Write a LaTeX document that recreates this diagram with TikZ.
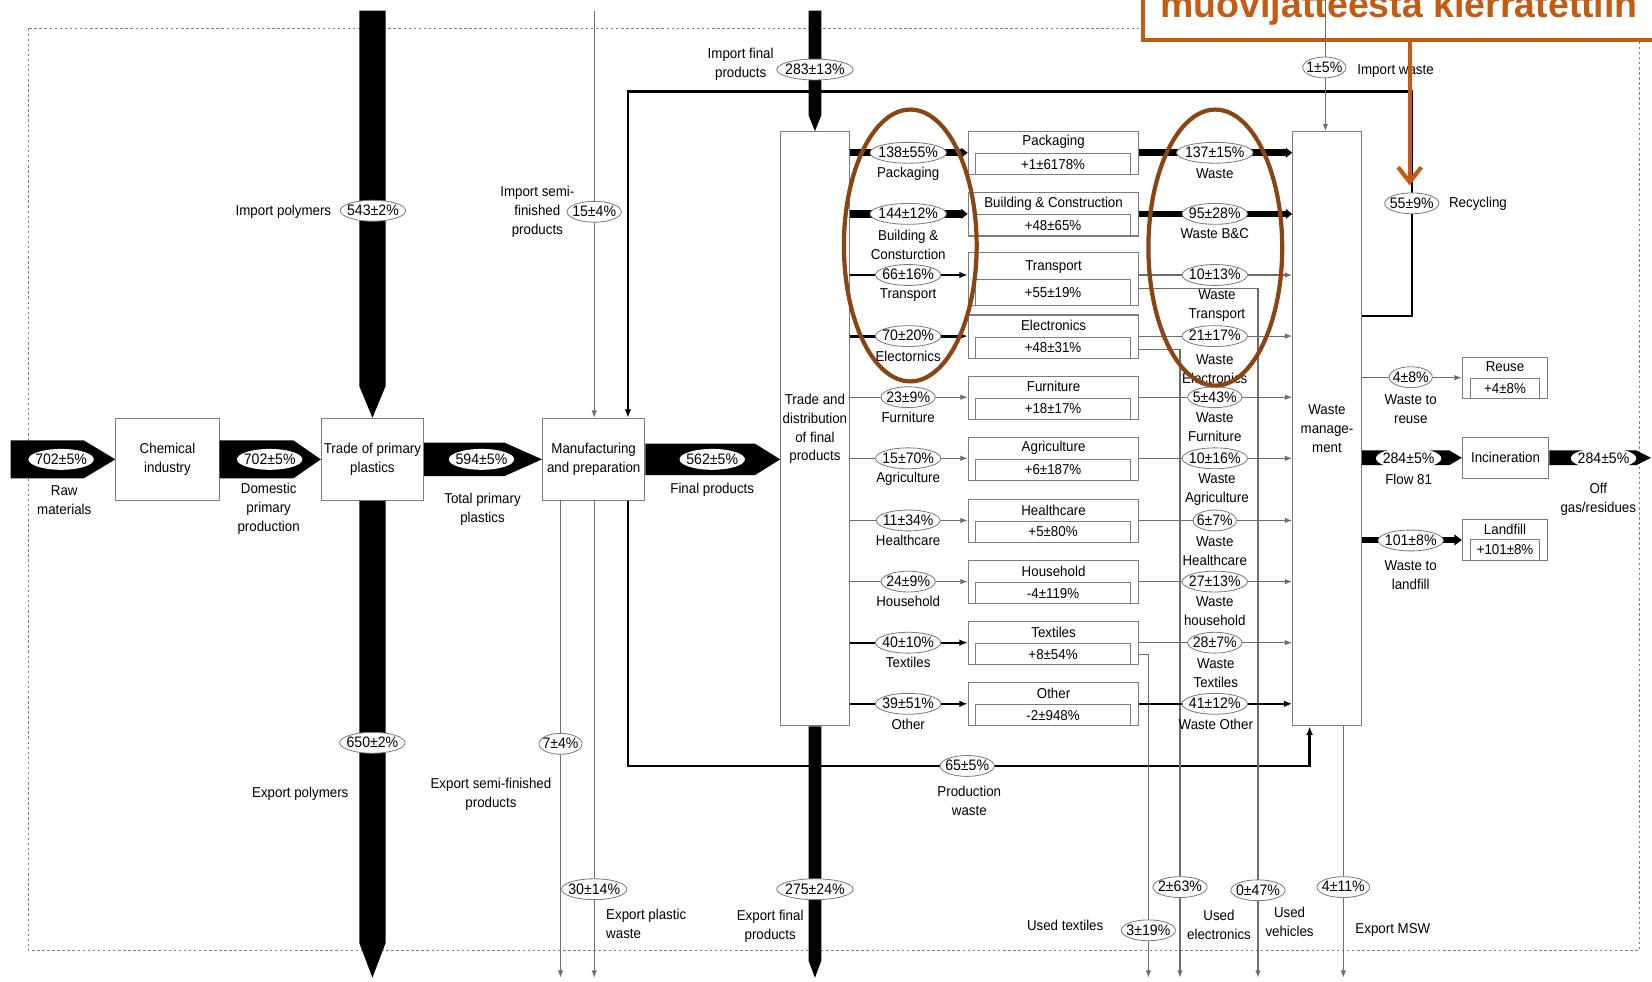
\documentclass[tikz,border=0pt]{standalone}
\usepackage{fontspec}
\setmainfont{Liberation Sans}[FakeStretch=0.93]
\newfontfamily\titlefont{Liberation Sans}
\usetikzlibrary{shapes.geometric,arrows.meta,calc}
\definecolor{orng}{RGB}{197,90,17}
\definecolor{brwn}{RGB}{139,69,19}
\definecolor{ln}{RGB}{110,110,110}
\definecolor{bx}{RGB}{125,125,125}
\tikzset{
 lbl/.style={font=\fontsize{6.8}{9}\selectfont, align=center, inner sep=0pt},
 val/.style={ellipse, draw=bx, line width=0.4pt, fill=white, font=\fontsize{7.2}{9}\selectfont, inner xsep=-1.3pt, inner ysep=0.6pt, text height=5.2pt, text depth=0.6pt},
 bval/.style={val, draw=none},
 box/.style={draw=bx, line width=0.5pt, fill=white, inner sep=0pt, font=\fontsize{6.8}{9}\selectfont, align=center},
 thin/.style={draw=ln, line width=0.5pt},
 tarr/.style={thin, -{Latex[length=3.5pt,width=2.6pt]}},
 marr/.style={draw=black, line width=1.1pt, -{Latex[length=4pt,width=3.2pt]}},
 karr/.style={draw=black, line width=3.5pt, -{Triangle[length=3pt,width=4.5pt]}},
 loopln/.style={draw=black, line width=1.2pt},
}
\newcommand\hbig[4]{\fill ($(#1)+(0,-#3)$) -- ($(#2)+(-#4,-#3)$) -- (#2) -- ($(#2)+(-#4,#3)$) -- ($(#1)+(0,#3)$) -- cycle;}
\newcommand\vbig[4]{\fill ($(#1)+(-#3,0)$) -- ($(#2)+(-#3,-#4)$) -- (#2) -- ($(#2)+(#3,-#4)$) -- ($(#1)+(#3,0)$) -- cycle;}
\begin{document}
\begin{tikzpicture}[x=0.5pt,y=-0.5pt]
\useasboundingbox (0,0) rectangle (1568,932);
\draw[bx, line width=0.4pt, dash pattern=on 1.2pt off 1.2pt] (27,27) rectangle (1556,902);

% coordinates
\coordinate (raw) at (10,436);
\coordinate (ipol) at (353.5,10);
\coordinate (epol) at (353.5,928);
\coordinate (ifp) at (773.5,10);
\coordinate (efp) at (773.5,928);
\coordinate (og) at (1567,434.5);
\foreach \i/\y in {1/145,2/203,3/261,4/319,5/377,6/435,7/494,8/552,9/610,10/668}
  \coordinate (r\i) at (0,\y);

% main boxes
\node[box, minimum width=49pt, minimum height=39pt] (chem) at (159,436) {Chemical\\industry};
\node[box, minimum width=48.5pt, minimum height=39pt] (trp) at (353.5,436) {Trade of primary\\plastics};
\node[box, minimum width=48.5pt, minimum height=39pt] (manu) at (563.5,436) {Manufacturing\\and preparation};
\node[box, minimum width=32.5pt, minimum height=282pt] (tdf) at (773.5,407) {Trade and\\distribution\\of final\\products};
\node[box, minimum width=32.5pt, minimum height=282pt] (wm) at (1259.5,407) {Waste\\manage-\\ment};

% sector boxes
\foreach \n/\y/\t/\v in {pk/145/Packaging/+1±6178\%, bc/203/{Building \& Construction}/+48±65\%, el/319/Electronics/+48±31\%, fu/377/Furniture/+18±17\%, ag/435/Agriculture/+6±187\%, hc/494/Healthcare/+5±80\%, hh/552/Household/-4±119\%, tx/610/Textiles/+8±54\%, ot/668/Other/-2±948\%}{
  \node[box, minimum width=81pt, minimum height=20.5pt] (\n) at (1000,\y+0.5) {};
  \node[box, minimum width=73.5pt, minimum height=10pt] (\n2) at (999.5,\y+11) {\v};
  \node[lbl] (\n3) at (1000,\y-10) {\t};
}
\node[box, minimum width=81pt, minimum height=25pt] (tr) at (1000,265) {};
\node[box, minimum width=73.5pt, minimum height=12.5pt] (tr2) at (999.5,277.5) {+55±19\%};
\node[lbl] (tr3) at (1000,253) {Transport};

% right boxes
\node[box, minimum width=41pt, minimum height=19.5pt] (inc) at (1429,434.5) {Incineration};
\node[box, minimum width=40.5pt, minimum height=19.5pt] (reuse) at (1428.5,358.5) {};
\node[box, minimum width=32.5pt, minimum height=9.5pt] (reuse2) at (1428.5,368.5) {+4±8\%};
\node[lbl] (reuse3) at (1428.5,348) {Reuse};
\node[box, minimum width=40.5pt, minimum height=19.5pt] (land) at (1428.5,512.5) {};
\node[box, minimum width=32.5pt, minimum height=10pt] (land2) at (1428.5,522) {+101±8\%};
\node[lbl] (land3) at (1428.5,502) {Landfill};

% big flows
\hbig{raw}{chem.west}{18}{30}
\hbig{chem.east}{trp.west}{18}{26}
\hbig{trp.east}{manu.west}{16}{36}
\coordinate (fpt) at (tdf.west |- manu.east);
\hbig{manu.east}{fpt}{15}{24}
\vbig{ipol}{trp.north}{12.5}{30}
\vbig{trp.south}{epol}{12.5}{33}
\vbig{ifp}{tdf.north}{6}{15}
\vbig{tdf.south}{efp}{6}{16}
\coordinate (incs) at (wm.east |- inc.west);
\hbig{incs}{inc.west}{7}{12}
\hbig{inc.east}{og}{7}{14}
\draw[draw=black, line width=2.5pt, -{Triangle[length=3.5pt,width=5pt]}] (wm.east |- land.west) -- (land.west);
\draw[tarr] (wm.east |- reuse.west) -- (reuse.west);

% loops
\coordinate (rc1) at (1340,300);
\coordinate (rc2) at (1340,87);
\coordinate (rc3) at (596,87);
\draw[loopln, -{Latex[length=4pt,width=3.2pt]}] (wm.east |- rc1) -- (rc1) -- (rc2) -- (rc3) -- (rc3 |- manu.north);
\coordinate (pw1) at (596,727);
\coordinate (pw2) at (1243,727);
\draw[loopln, -{Latex[length=4pt,width=3.2pt]}] (pw1 |- manu.south) -- (pw1) -- (pw2) -- (pw2 |- wm.south);

% thin vertical flows
\coordinate (isf) at (564,10);
\draw[tarr] (isf) -- (isf |- manu.north);
\coordinate (esf) at (532,928);
\draw[tarr] (esf |- manu.south) -- (esf);
\coordinate (epw) at (564,928);
\draw[tarr] (epw |- manu.south) -- (epw);
\coordinate (iw) at (1258,0);
\coordinate (emsw) at (1275,928);
\draw[tarr] (emsw |- wm.south) -- (emsw);
\coordinate (ut1) at (1090,621);
\coordinate (ut) at (1090,928);
\draw[tarr] (tx.east |- ut1) -- (ut1) -- (ut);
\coordinate (ue1) at (1120,332);
\coordinate (ue) at (1120,928);
\draw[tarr] (el.east |- ue1) -- (ue1) -- (ue);
\coordinate (uv1) at (1194,274);
\coordinate (uv) at (1194,928);
\draw[tarr] (tr.east |- uv1) -- (uv1) -- (uv);

% sector flows left
\draw[karr] (tdf.east |- r1) -- (pk.west |- r1);
\draw[karr] (tdf.east |- r2) -- (bc.west |- r2);
\draw[marr, line width=1pt] (tdf.east |- r3) -- (tr.west |- r3);
\draw[marr, line width=1.5pt] (tdf.east |- r4) -- (el.west |- r4);
\draw[tarr] (tdf.east |- r5) -- (fu.west |- r5);
\draw[tarr] (tdf.east |- r6) -- (ag.west |- r6);
\draw[tarr] (tdf.east |- r7) -- (hc.west |- r7);
\draw[tarr] (tdf.east |- r8) -- (hh.west |- r8);
\draw[marr, line width=0.9pt] (tdf.east |- r9) -- (tx.west |- r9);
\draw[marr, line width=0.9pt] (tdf.east |- r10) -- (ot.west |- r10);
% sector flows right
\draw[karr] (pk.east |- r1) -- (wm.west |- r1);
\draw[karr, line width=3pt] (bc.east |- r2) -- (wm.west |- r2);
\draw[tarr] (tr.east |- r3) -- (wm.west |- r3);
\draw[tarr] (el.east |- r4) -- (wm.west |- r4);
\draw[tarr] (fu.east |- r5) -- (wm.west |- r5);
\draw[tarr] (ag.east |- r6) -- (wm.west |- r6);
\draw[tarr] (hc.east |- r7) -- (wm.west |- r7);
\draw[tarr] (hh.east |- r8) -- (wm.west |- r8);
\draw[tarr] (tx.east |- r9) -- (wm.west |- r9);
\draw[marr, line width=1.2pt] (ot.east |- r10) -- (wm.west |- r10);

% values on sector flows
\foreach \i/\v in {1/138±55\%,2/144±12\%,3/66±16\%,4/70±20\%,5/23±9\%,6/15±70\%,7/11±34\%,8/24±9\%,9/40±10\%,10/39±51\%}
  \node[val] (lv\i) at ($(r\i)+(862,0)$) {\v};
\foreach \i/\v in {1/137±15\%,2/95±28\%,3/10±13\%,4/21±17\%,5/5±43\%,6/10±16\%,7/6±7\%,8/27±13\%,9/28±7\%,10/41±12\%}
  \node[val] (wv\i) at ($(r\i)+(1153,0)$) {\v};

% sector labels
\node[lbl] (ll1) at (862,165) {Packaging};
\node[lbl] (ll2) at (862,232) {Building \&\\Consturction};
\node[lbl] (ll3) at (862,280) {Transport};
\node[lbl] (ll4) at (862,338) {Electornics};
\node[lbl] (ll5) at (862,396) {Furniture};
\node[lbl] (ll6) at (862,454) {Agriculture};
\node[lbl] (ll7) at (862,513) {Healthcare};
\node[lbl] (ll8) at (862,571) {Household};
\node[lbl] (ll9) at (862,629) {Textiles};
\node[lbl] (ll10) at (862,688) {Other};
\node[lbl] (wl1) at (1153,165) {Waste};
\node[lbl] (wl2) at (1153,222) {Waste B\&C};
\node[lbl] (wl3) at (1155,290) {Waste\\Transport};
\node[lbl] (wl4) at (1153,350) {Waste\\Electronics};
\node[lbl] (wl5) at (1153,405) {Waste\\Furniture};
\node[lbl] (wl6) at (1155,465) {Waste\\Agriculture};
\node[lbl] (wl7) at (1153,523) {Waste\\Healthcare};
\node[lbl] (wl8) at (1153,580) {Waste\\household};
\node[lbl] (wl9) at (1154,639) {Waste\\Textiles};
\node[lbl] (wl10) at (1154,688) {Waste Other};

% values on big flows
\node[bval] (v1) at (58,436) {702±5\%};
\node[bval] (v2) at (256,436) {702±5\%};
\node[bval] (v3) at (457,436) {594±5\%};
\node[bval] (v4) at (676,436) {562±5\%};
\node[val] (v5) at (354,200) {543±2\%};
\node[val] (v6) at (353.5,705) {650±2\%};
\node[val] (v7) at (564,201) {15±4\%};
\node[val] (v8) at (532,706) {7±4\%};
\node[val] (v9) at (564,844) {30±14\%};
\node[val] (v10) at (773.5,66) {283±13\%};
\node[val] (v11) at (773.5,844) {275±24\%};
\node[val] (v12) at (918,727) {65±5\%};
\node[val] (v14) at (1340,193) {55±9\%};
\node[val] (v15) at (1339,358) {4±8\%};
\node[bval] (v16) at (1337,435) {284±5\%};
\node[val] (v17) at (1339,513) {101±8\%};
\node[bval] (v18) at (1522,435) {284±5\%};
\node[val] (v19) at (1090,883) {3±19\%};
\node[val] (v20) at (1120,842) {2±63\%};
\node[val] (v21) at (1194,845) {0±47\%};
\node[val] (v22) at (1275,842) {4±11\%};

% flow labels
\node[lbl] (t1) at (61,475) {Raw\\materials};
\node[lbl] (t2) at (255,483) {Domestic\\primary\\production};
\node[lbl] (t3) at (458,483) {Total primary\\plastics};
\node[lbl] (t4) at (676,465) {Final products};
\node[lbl] (t5) at (269,201) {Import polymers};
\node[lbl] (t6) at (285,753) {Export polymers};
\node[lbl] (t7) at (510,201) {Import semi-\\finished\\products};
\node[lbl] (t8) at (466,754) {Export semi-finished\\products};
\node[lbl, align=left, anchor=west] (t9) at (575,877) {Export plastic\\waste};
\node[lbl] (t10) at (703,61) {Import final\\products};
\node[lbl] (t11) at (731,879) {Export final\\products};
\node[lbl] (t12) at (1011,878) {Used textiles};
\node[lbl] (t13) at (1157,878) {Used\\electronics};
\node[lbl] (t14) at (1224,875) {Used\\vehicles};
\node[lbl] (t15) at (1322,883) {Export MSW};
\node[lbl] (t16) at (920,760) {Production\\waste};
\node[lbl, anchor=west] (t17) at (1288,67) {Import waste};
\node[lbl, anchor=west] (t18) at (1375,193) {Recycling};
\node[lbl] (t19) at (1339,388) {Waste to\\reuse};
\node[lbl] (t20) at (1337,455) {Flow 81};
\node[lbl] (t21) at (1339,546) {Waste to\\landfill};
\node[lbl] (t22) at (1517,474) {Off\\gas/residues};

% highlight ellipses
\draw[brwn, line width=2pt] (864,233) ellipse [x radius=63, y radius=129];
\draw[brwn, line width=2pt] (1153.5,235) ellipse [x radius=63.5, y radius=131];

% title box and arrow
\fill[white] (1085,-20) rectangle (1600,38);
\draw[orng, line width=2pt] (1085,-20) -- (1085,38) -- (1600,38);
\node[font=\titlefont\fontsize{17.8}{20}\selectfont\bfseries, text=orng, anchor=base, inner sep=0pt] (title) at (1328,17) {muovijätteestä kierrätettiin};
\coordinate (oa1) at (1338,38);
\coordinate (oa2) at (1338,176);
\draw[orng, line width=2pt, -{Straight Barb[length=7pt,width=11pt]}] (oa1) -- (oa2);

% import waste
\draw[tarr] (iw) -- (iw |- wm.north);
\node[val] (v13) at (1257,64) {1±5\%};
\end{tikzpicture}
\end{document}
